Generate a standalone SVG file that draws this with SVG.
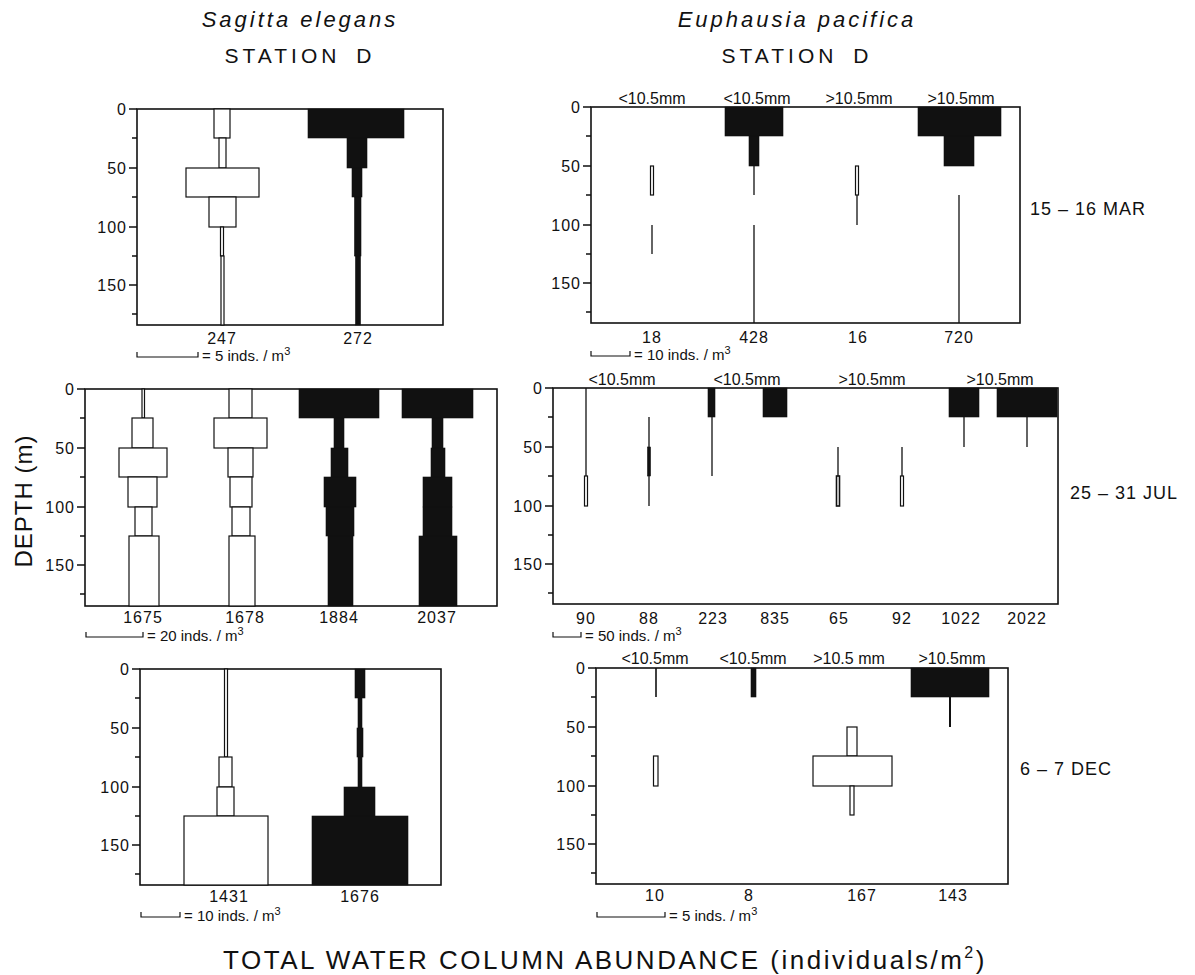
<svg xmlns="http://www.w3.org/2000/svg" width="1195" height="975" viewBox="0 0 1195 975">
<style>
.bg{fill:#fff}
.frame{fill:none;stroke:#111;stroke-width:1.6}
.ob{fill:#fff;stroke:#111;stroke-width:1.2}
.bb{fill:#111;stroke:#111;stroke-width:0.6}
.ln{stroke:#111;stroke-width:1.3;fill:none}
.tk{stroke:#111;stroke-width:1.3;fill:none}
.sb{stroke:#111;stroke-width:1.2;fill:none}
text{font-family:"Liberation Sans",Arial,sans-serif;fill:#111}
.num{font-size:16px;text-anchor:middle;letter-spacing:1px}
.ax{font-size:16px;text-anchor:end;letter-spacing:1px}
.hd{font-size:16px;text-anchor:middle}
.sc{font-size:15px}
.title{font-size:22px;font-style:italic;text-anchor:middle;letter-spacing:3px}
.stn{font-size:21px;text-anchor:middle;letter-spacing:4px;word-spacing:6px}
.date{font-size:18px;letter-spacing:1px}
.big{font-size:26px;text-anchor:middle;letter-spacing:2.5px}
</style>
<defs>
<g id="axis">
<path class="tk" d="M-8,0H0M-8,59H0M-8,118H0M-8,176H0M-5,29H0M-5,88H0M-5,147H0M-5,205H0"/>
</g>
</defs>
<rect class="bg" x="0" y="0" width="1195" height="975"/>

<g id="titles">
<text class="title" x="300" y="27">Sagitta elegans</text>
<text class="stn" x="300" y="63">STATION D</text>
<text class="title" x="797" y="27">Euphausia pacifica</text>
<text class="stn" x="797" y="63">STATION D</text>
<text x="32" y="501" font-size="24" text-anchor="middle" letter-spacing="1" transform="rotate(-90 32 501)">DEPTH (m)</text>
<text class="date" x="1030" y="215">15 – 16 MAR</text>
<text class="date" x="1070" y="499">25 – 31 JUL</text>
<text class="date" x="1020" y="775">6 – 7 DEC</text>
<text class="big" x="605" y="969">TOTAL WATER COLUMN ABUNDANCE (individuals/m<tspan font-size="16" dy="-11">2</tspan><tspan dy="11">)</tspan></text>
</g>

<!-- Panel 1: Sagitta, Mar -->
<g id="panel-sag-mar" transform="translate(137,109)">
<rect class="frame" x="0" y="0" width="306" height="216"/>
<use href="#axis"/>
<text class="ax" x="-10" y="6">0</text>
<text class="ax" x="-10" y="65">50</text>
<text class="ax" x="-10" y="124">100</text>
<text class="ax" x="-10" y="182">150</text>
<rect class="ob" x="77" y="0" width="16" height="29"/>
<rect class="ob" x="82" y="29" width="7" height="30"/>
<rect class="ob" x="49" y="59" width="73" height="29"/>
<rect class="ob" x="72" y="88" width="27" height="30"/>
<rect class="ob" x="83.5" y="118" width="3" height="29"/>
<rect class="ob" x="84" y="147" width="3" height="69"/>
<rect class="bb" x="171" y="0" width="96" height="29"/>
<rect class="bb" x="210" y="29" width="20" height="30"/>
<rect class="bb" x="215" y="59" width="10" height="29"/>
<rect class="bb" x="217.5" y="88" width="6.5" height="59"/>
<rect class="bb" x="218.5" y="147" width="5" height="69"/>
<text class="num" x="85" y="235">247</text>
<text class="num" x="221" y="235">272</text>
<path class="sb" d="M0,243V248H61V243"/>
<text class="sc" x="65" y="252">= 5 inds. / m<tspan font-size="11" dy="-6">3</tspan></text>
</g>

<!-- Panel 2: Euphausia, Mar -->
<g id="panel-eup-mar" transform="translate(591,107)">
<rect class="frame" x="0" y="0" width="429" height="216"/>
<use href="#axis"/>
<text class="ax" x="-10" y="6">0</text>
<text class="ax" x="-10" y="65">50</text>
<text class="ax" x="-10" y="124">100</text>
<text class="ax" x="-10" y="182">150</text>
<text class="hd" x="61" y="-3">&lt;10.5mm</text>
<text class="hd" x="166" y="-3">&lt;10.5mm</text>
<text class="hd" x="268" y="-3">&gt;10.5mm</text>
<text class="hd" x="370" y="-3">&gt;10.5mm</text>
<rect class="ob" x="59.5" y="59" width="3" height="29"/>
<path class="ln" d="M61,118V147"/>
<rect class="bb" x="134" y="0" width="58" height="29"/>
<rect class="bb" x="158" y="29" width="10" height="30"/>
<path class="ln" d="M163,59V88M163,118V216"/>
<rect class="ob" x="264.5" y="59" width="3" height="29"/>
<path class="ln" d="M266,88V118"/>
<rect class="bb" x="327" y="0" width="83" height="29"/>
<rect class="bb" x="353" y="29" width="30" height="30"/>
<path class="ln" d="M368,88V216"/>
<text class="num" x="61" y="236">18</text>
<text class="num" x="163" y="236">428</text>
<text class="num" x="267" y="236">16</text>
<text class="num" x="368" y="236">720</text>
<path class="sb" d="M0,244V249H39V244"/>
<text class="sc" x="43" y="253">= 10 inds. / m<tspan font-size="11" dy="-6">3</tspan></text>
</g>

<!-- Panel 3: Sagitta, Jul -->
<g id="panel-sag-jul" transform="translate(85,389)">
<rect class="frame" x="0" y="0" width="412" height="217"/>
<use href="#axis"/>
<text class="ax" x="-10" y="6">0</text>
<text class="ax" x="-10" y="65">50</text>
<text class="ax" x="-10" y="124">100</text>
<text class="ax" x="-10" y="182">150</text>
<rect class="ob" x="57" y="0" width="2.5" height="29"/>
<rect class="ob" x="47" y="29" width="21" height="30"/>
<rect class="ob" x="34" y="59" width="48" height="29"/>
<rect class="ob" x="43" y="88" width="29" height="30"/>
<rect class="ob" x="50" y="118" width="17" height="29"/>
<rect class="ob" x="44" y="147" width="30" height="70"/>
<rect class="ob" x="144" y="0" width="23" height="29"/>
<rect class="ob" x="129" y="29" width="53" height="30"/>
<rect class="ob" x="143" y="59" width="25" height="29"/>
<rect class="ob" x="145" y="88" width="22" height="30"/>
<rect class="ob" x="147" y="118" width="18" height="29"/>
<rect class="ob" x="144" y="147" width="26" height="70"/>
<rect class="bb" x="214" y="0" width="80" height="29"/>
<rect class="bb" x="249" y="29" width="10" height="30"/>
<rect class="bb" x="246" y="59" width="17" height="29"/>
<rect class="bb" x="239" y="88" width="32" height="30"/>
<rect class="bb" x="241" y="118" width="28" height="29"/>
<rect class="bb" x="243" y="147" width="25" height="70"/>
<rect class="bb" x="317" y="0" width="71" height="29"/>
<rect class="bb" x="347" y="29" width="11" height="30"/>
<rect class="bb" x="346" y="59" width="14" height="29"/>
<rect class="bb" x="338" y="88" width="29" height="30"/>
<rect class="bb" x="338" y="118" width="29" height="29"/>
<rect class="bb" x="334" y="147" width="38" height="70"/>
<text class="num" x="58" y="234">1675</text>
<text class="num" x="160" y="234">1678</text>
<text class="num" x="254" y="234">1884</text>
<text class="num" x="352" y="234">2037</text>
<path class="sb" d="M1,243V248H58V243"/>
<text class="sc" x="62" y="252">= 20 inds. / m<tspan font-size="11" dy="-6">3</tspan></text>
</g>

<!-- Panel 4: Euphausia, Jul -->
<g id="panel-eup-jul" transform="translate(553,388)">
<rect class="frame" x="0" y="0" width="505" height="216"/>
<use href="#axis"/>
<text class="ax" x="-10" y="6">0</text>
<text class="ax" x="-10" y="65">50</text>
<text class="ax" x="-10" y="124">100</text>
<text class="ax" x="-10" y="182">150</text>
<text class="hd" x="69" y="-3">&lt;10.5mm</text>
<text class="hd" x="194" y="-3">&lt;10.5mm</text>
<text class="hd" x="319" y="-3">&gt;10.5mm</text>
<text class="hd" x="447" y="-3">&gt;10.5mm</text>
<path class="ln" d="M33,0V88"/>
<rect class="ob" x="31.5" y="88" width="3" height="30"/>
<path class="ln" d="M96,29V59M96,88V118"/>
<rect class="bb" x="94.5" y="59" width="3" height="29"/>
<rect class="bb" x="155" y="0" width="7" height="29"/>
<path class="ln" d="M159,29V88"/>
<rect class="bb" x="210" y="0" width="24" height="29"/>
<path class="ln" d="M285,59V88"/>
<rect class="ob" x="283.5" y="88" width="3" height="30" style="stroke-width:1.6"/>
<path class="ln" d="M349,59V88"/>
<rect class="ob" x="347.5" y="88" width="3" height="30"/>
<rect class="bb" x="396" y="0" width="30" height="29"/>
<path class="ln" d="M411,29V59"/>
<rect class="bb" x="444" y="0" width="60" height="29"/>
<path class="ln" d="M474,29V59"/>
<text class="num" x="33" y="236">90</text>
<text class="num" x="96" y="236">88</text>
<text class="num" x="160" y="236">223</text>
<text class="num" x="222" y="236">835</text>
<text class="num" x="286" y="236">65</text>
<text class="num" x="349" y="236">92</text>
<text class="num" x="408" y="236">1022</text>
<text class="num" x="474" y="236">2022</text>
<path class="sb" d="M0,244V249H28V244"/>
<text class="sc" x="32" y="253">= 50 inds. / m<tspan font-size="11" dy="-6">3</tspan></text>
</g>

<!-- Panel 5: Sagitta, Dec -->
<g id="panel-sag-dec" transform="translate(140,669)">
<rect class="frame" x="0" y="0" width="301" height="216"/>
<use href="#axis"/>
<text class="ax" x="-10" y="6">0</text>
<text class="ax" x="-10" y="65">50</text>
<text class="ax" x="-10" y="124">100</text>
<text class="ax" x="-10" y="182">150</text>
<rect class="ob" x="84.5" y="0" width="3" height="88"/>
<rect class="ob" x="79" y="88" width="13" height="30"/>
<rect class="ob" x="77" y="118" width="17" height="29"/>
<rect class="ob" x="44" y="147" width="84" height="69"/>
<rect class="bb" x="215" y="0" width="10" height="29"/>
<rect class="bb" x="218" y="29" width="4" height="30"/>
<rect class="bb" x="217" y="59" width="6" height="29"/>
<rect class="bb" x="218" y="88" width="4" height="30"/>
<rect class="bb" x="204" y="118" width="31" height="29"/>
<rect class="bb" x="172" y="147" width="96" height="69"/>
<text class="num" x="89" y="233">1431</text>
<text class="num" x="220" y="233">1676</text>
<path class="sb" d="M1,243V248H40V243"/>
<text class="sc" x="44" y="252">= 10 inds. / m<tspan font-size="11" dy="-6">3</tspan></text>
</g>

<!-- Panel 6: Euphausia, Dec -->
<g id="panel-eup-dec" transform="translate(596,668)">
<rect class="frame" x="0" y="0" width="412" height="216"/>
<use href="#axis"/>
<text class="ax" x="-10" y="6">0</text>
<text class="ax" x="-10" y="65">50</text>
<text class="ax" x="-10" y="124">100</text>
<text class="ax" x="-10" y="182">150</text>
<text class="hd" x="59" y="-4">&lt;10.5mm</text>
<text class="hd" x="157" y="-4">&lt;10.5mm</text>
<text class="hd" x="253" y="-4">&gt;10.5 mm</text>
<text class="hd" x="356" y="-4">&gt;10.5mm</text>
<path class="ln" d="M60,0V29" style="stroke-width:1.6"/>
<rect class="ob" x="57.5" y="88" width="4.5" height="30"/>
<rect class="bb" x="155" y="0" width="5" height="29"/>
<rect class="ob" x="251" y="59" width="10" height="29"/>
<rect class="ob" x="217" y="88" width="79" height="30"/>
<rect class="ob" x="254" y="118" width="4" height="29"/>
<rect class="bb" x="315" y="0" width="78" height="29"/>
<path class="ln" d="M354,29V59" style="stroke-width:2"/>
<text class="num" x="59" y="233">10</text>
<text class="num" x="153" y="233">8</text>
<text class="num" x="266" y="233">167</text>
<text class="num" x="357" y="233">143</text>
<path class="sb" d="M1,244V249H69V244"/>
<text class="sc" x="73" y="253">= 5 inds. / m<tspan font-size="11" dy="-6">3</tspan></text>
</g>
</svg>
